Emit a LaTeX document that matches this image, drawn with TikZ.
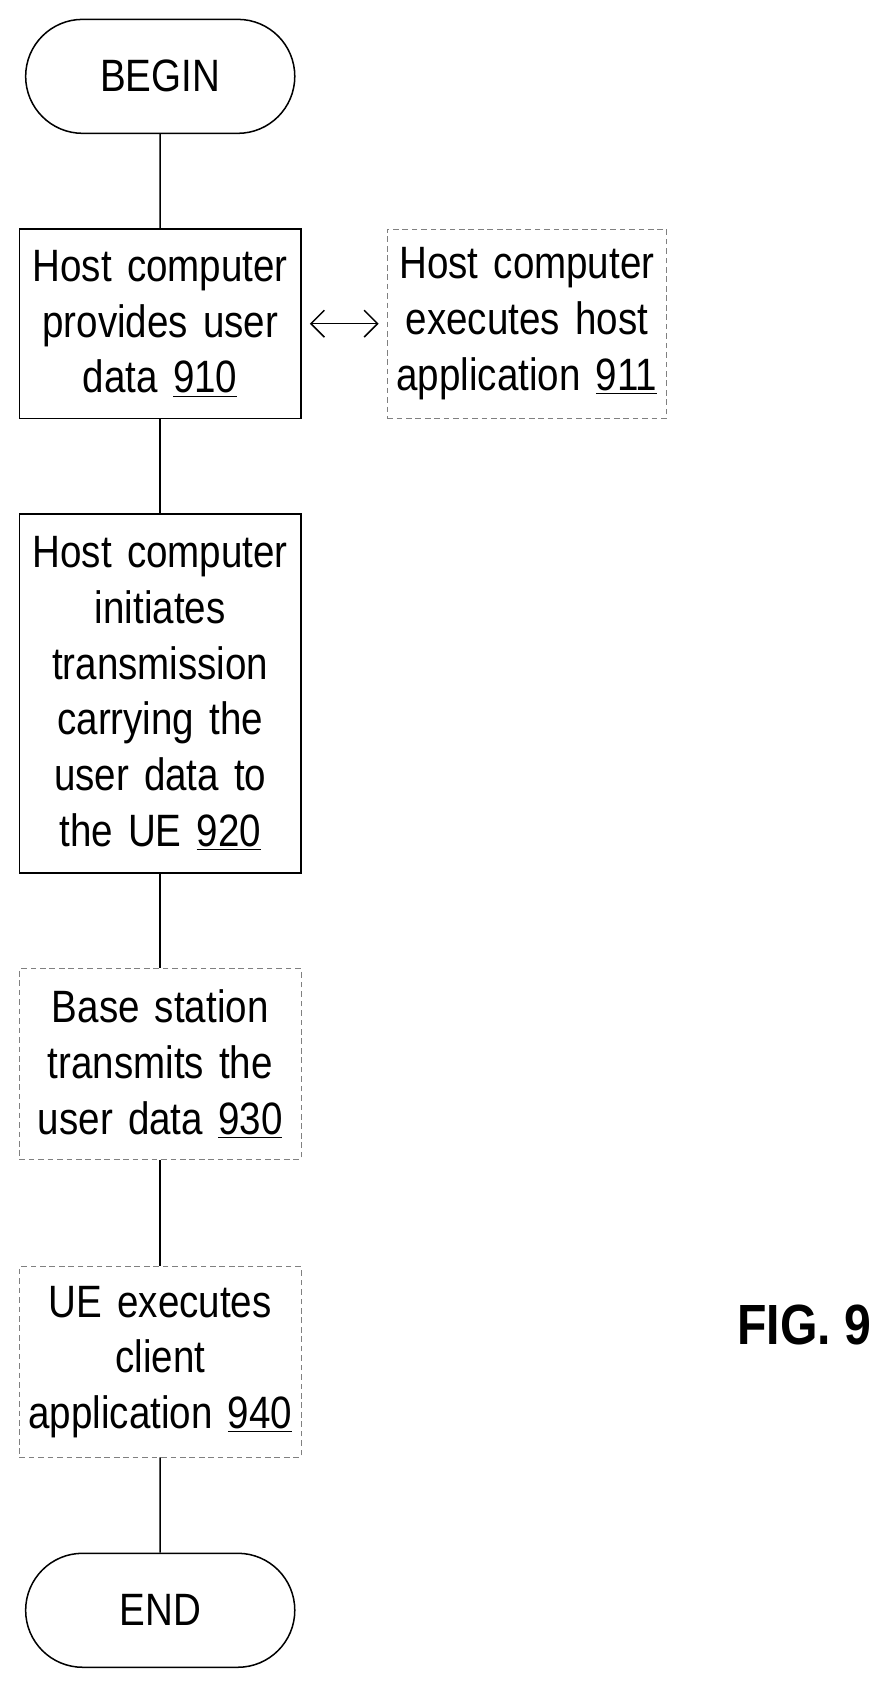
\documentclass[tikz,border=0pt]{standalone}
\usepackage{fontspec}
\setmainfont{Liberation Sans}[FakeStretch=0.85]
\usetikzlibrary{shapes.misc,arrows.meta}

\begin{document}
\begin{tikzpicture}[
    every node/.style={font=\fontsize{24}{29.5}\selectfont, align=center},
    stepbox/.style={draw, thick, minimum width=52.4mm, text width=51mm, inner sep=0pt},
    optbox/.style={stepbox, draw=gray, densely dashed, thin},
    terminal/.style={draw, thick, rounded rectangle, minimum width=52.4mm, minimum height=21.2mm},
    link/.style={draw, thick},
    twoway/.style={thick, {Straight Barb[length=2.5mm,width=5mm]}-{Straight Barb[length=2.5mm,width=5mm]}}
  ]
  \useasboundingbox (0,0) rectangle (16.46,-31.34);

  \coordinate (beginp) at (2.98,-1.42);
  \coordinate (s910p) at (2.98,-6.02);
  \coordinate (s911p) at (9.8,-6.02);
  \coordinate (s920p) at (2.98,-12.9);
  \coordinate (s930p) at (2.98,-19.79);
  \coordinate (s940p) at (2.98,-25.33);
  \coordinate (endp) at (2.98,-29.95);

  % Flow
  \node[terminal] (begin) at (beginp) {BEGIN};
  \node[stepbox, minimum height=35.2mm] (s910) at (s910p) {Host computer\\provides user\\data \underline{910}};
  \node[optbox, minimum height=35.2mm, minimum width=52mm] (s911) at (s911p) {Host computer\\executes host\\application \underline{911}};
  \node[stepbox, minimum height=66.8mm] (s920) at (s920p) {Host computer\\initiates\\transmission\\carrying the\\user data to\\the UE \underline{920}};
  \node[optbox, minimum height=35.4mm] (s930) at (s930p) {Base station\\transmits the\\user data \underline{930}};
  \node[optbox, minimum height=35.4mm] (s940) at (s940p) {UE executes\\client\\application \underline{940}};
  \node[terminal] (end) at (endp) {END};

  \node[font=\fontsize{30}{34}\selectfont\bfseries] (fig) at (14.96,-24.64) {FIG. 9};

  % Connectors
  \draw[link] (begin) -- (s910);
  \draw[link] (s910) -- (s920);
  \draw[link] (s920) -- (s930);
  \draw[link] (s930) -- (s940);
  \draw[link] (s940) -- (end);
  \draw[twoway] ([xshift=1.5mm]s910.east) -- ([xshift=-1.5mm]s911.west);
\end{tikzpicture}
\end{document}
